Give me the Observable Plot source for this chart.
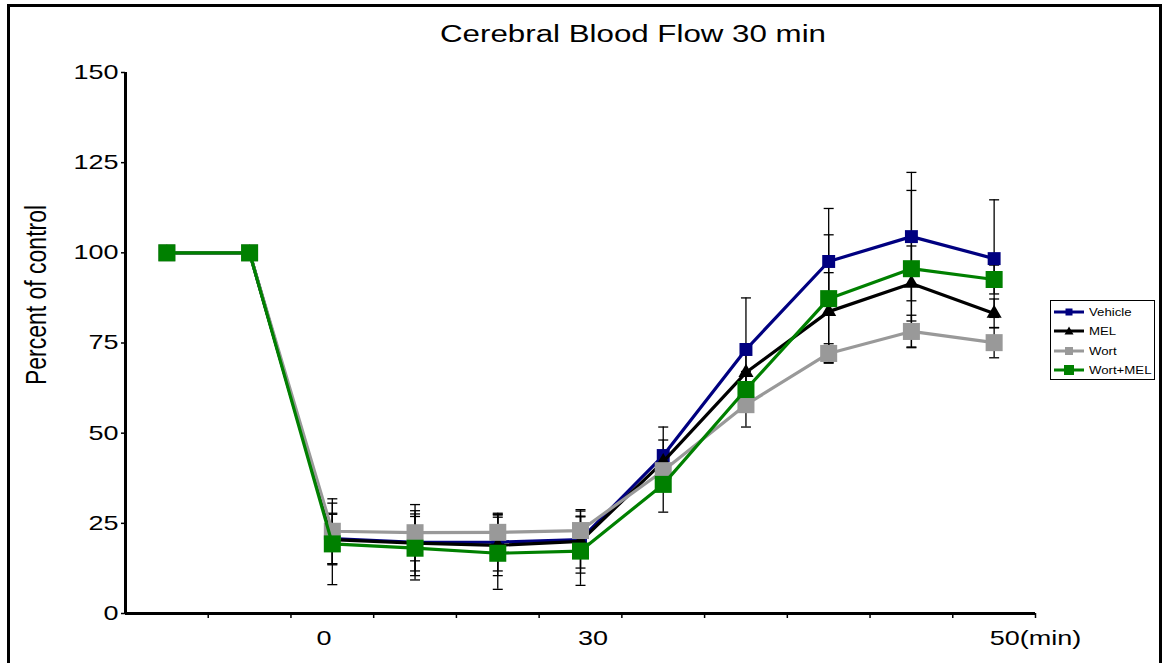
<!DOCTYPE html>
<html>
<head>
<meta charset="utf-8">
<script src="https://cdn.jsdelivr.net/npm/d3@7"></script>
<script src="https://cdn.jsdelivr.net/npm/@observablehq/plot@0.6"></script>
<style>
  html, body { margin: 0; padding: 0; background: #fff; overflow: hidden; }
  #wrap { position: relative; width: 1162px; height: 663px; overflow: hidden; font-family: "Liberation Sans", Arial, sans-serif; background: #fff; }
  #chart { position: absolute; left: 0; top: 0; }
  #frame { position: absolute; left: 7px; top: 4px; width: 1155px; height: 800px; border: 3px solid #000; box-sizing: border-box; pointer-events: none; }
  #title { position: absolute; left: 633px; top: 22px; font-size: 23px; line-height: 24px; white-space: nowrap; color: #000; transform: translateX(-50%) scaleX(1.36); }
  #legend { position: absolute; left: 1050px; top: 300px; width: 105px; height: 80px; box-sizing: border-box; border: 1px solid #000; background: #fff; padding-top: 1px; }
  .row { height: 19.5px; display: flex; align-items: center; }
  .row svg { margin-left: 3px; flex: none; }
  .row span { display: inline-block; margin-left: 5px; font-size: 11px; color: #000; transform: scaleX(1.2); transform-origin: left center; white-space: nowrap; }
</style>
</head>
<body>
<div id="wrap">
  <div id="chart"></div>
  <div id="title">Cerebral Blood Flow 30 min</div>
  <div id="legend"></div>
  <div id="frame"></div>
</div>
<script>
// ---- data ----
const xIndex = [0, 1, 2, 3, 4, 5, 6, 7, 8, 9, 10];
const seriesNames = ["Vehicle", "MEL", "Wort", "Wort+MEL"];
const seriesColors = ["#000080", "#000000", "#999999", "#008000"];
const seriesSymbols = ["square", "triangle", "square", "square"];
const seriesMarkerR = [7.3, 5.6, 9.6, 9.6];

const vehicle = [100, 100, 20.8, 19.7, 19.8, 20.5, 43.8, 73.2, 97.6, 104.5, 98.4];
const mel     = [100, 100, 20.5, 19.5, 18.9, 20.0, 42.1, 66.8, 83.7, 91.5, 83.2];
const wort    = [100, 100, 22.8, 22.4, 22.5, 23.0, 39.6, 57.9, 72.1, 78.2, 75.1];
const wortMel = [100, 100, 19.3, 18.1, 16.7, 17.3, 35.8, 62.1, 87.3, 95.6, 92.6];

const vehicleErr = [0, 0, 7.0, 7.9, 8.0, 7.9, 7.9, 14.3, 14.7, 17.8, 16.3];
const melErr     = [0, 0, 7.0, 9.0, 8.4, 8.8, 6.0, 5.0, 10.8, 10.4, 4.0];
const wortErr    = [0, 0, 9.0, 7.8, 5.0, 4.0, 3.0, 6.2, 2.7, 4.5, 4.2];
const wortMelErr = [0, 0, 11.3, 8.8, 10.0, 9.5, 7.7, 5.0, 17.7, 21.7, 4.0];

const yTicks = [0, 25, 50, 75, 100, 125, 150];
const xBoundaries = [1, 2, 3, 4, 5, 6, 7, 8, 9, 10, 11];
const xLabelPos = [2.4, 5.65, 11];
const xLabels = ["0", "30", "50(min)"];
const yLabel = ["Percent of control"];

// ---- tables ----
const values = [vehicle, mel, wort, wortMel];
const errs = [vehicleErr, melErr, wortErr, wortMelErr];
const rows = seriesNames.flatMap((s, k) =>
  xIndex.map(i => ({series: s, x: i + 0.5, y: values[k][i], e: errs[k][i]}))
);
const errRows = rows.filter(d => d.e > 0);

// horizontal cap symbol for error bars
const cap = {
  draw(ctx, size) {
    const r = Math.sqrt(size / Math.PI);
    ctx.moveTo(-r, 0);
    ctx.lineTo(r, 0);
  }
};

const marks = [
  Plot.ruleX(errRows, {x: "x", y1: d => d.y - d.e, y2: d => d.y + d.e, stroke: "black", strokeWidth: 1.3}),
  Plot.dot(errRows, {x: "x", y: d => d.y + d.e, symbol: cap, r: 5, stroke: "black", fill: "none", strokeWidth: 1.3}),
  Plot.dot(errRows, {x: "x", y: d => d.y - d.e, symbol: cap, r: 5, stroke: "black", fill: "none", strokeWidth: 1.3}),
  Plot.ruleY([0], {strokeWidth: 3}),
  Plot.ruleX([0], {strokeWidth: 3}),
  Plot.axisY(yTicks, {tickSize: 4, tickPadding: 3, fontSize: 20, label: null, strokeWidth: 1.5}),
  Plot.axisX(xBoundaries, {tickSize: 5, tickFormat: () => "", label: null, strokeWidth: 1.5}),
  Plot.axisX(xLabelPos, {tickSize: 0, tickPadding: 17, fontSize: 20, label: null, tickFormat: d => xLabels[xLabelPos.indexOf(d)]}),
  Plot.text(yLabel, {text: d => d, frameAnchor: "left", textAnchor: "middle", rotate: -90, dx: -89, dy: -48, fontSize: 23})
];

seriesNames.forEach((s, k) => {
  const data = rows.filter(d => d.series === s);
  marks.push(Plot.line(data, {x: "x", y: "y", stroke: seriesColors[k], strokeWidth: 3.2}));
  marks.push(Plot.dot(data, {x: "x", y: "y", symbol: seriesSymbols[k], r: seriesMarkerR[k], fill: seriesColors[k], stroke: "none"}));
});

const svg = Plot.plot({
  width: 1162,
  height: 663,
  marginLeft: 125,
  marginRight: 127,
  marginTop: 72,
  marginBottom: 50,
  x: {type: "linear", domain: [0, 11]},
  y: {type: "linear", domain: [0, 150]},
  style: {fontFamily: "'Liberation Sans', Arial, sans-serif", fontSize: "20px", color: "black", background: "transparent", overflow: "visible"},
  marks
});

// widen the text like the reference's horizontally stretched typography
d3.select(svg).selectAll("text").each(function () {
  const t = d3.select(this);
  const tr = t.attr("transform") || "";
  if (!tr.includes("translate")) return;
  if (this.textContent === yLabel[0]) t.attr("transform", tr + " scale(1,1.3)");
  else t.attr("transform", tr + " scale(1.35,1)");
});

document.getElementById("chart").appendChild(svg);

// ---- legend ----
const legend = document.getElementById("legend");
const legendMarker = [
  '<rect x="11.5" y="1.5" width="7" height="7" fill="#000080"/>',
  '<polygon points="15,0.5 19.5,8.5 10.5,8.5" fill="#000000"/>',
  '<rect x="11" y="1" width="8" height="8" fill="#999999"/>',
  '<rect x="10" y="0" width="10" height="10" fill="#008000"/>'
];
seriesNames.forEach((s, k) => {
  const row = document.createElement("div");
  row.className = "row";
  row.innerHTML =
    `<svg width="30" height="10" viewBox="0 0 30 10"><line x1="0" y1="5" x2="30" y2="5" stroke="${seriesColors[k]}" stroke-width="3"/>${legendMarker[k]}</svg><span>${s}</span>`;
  legend.appendChild(row);
});
</script>
</body>
</html>
